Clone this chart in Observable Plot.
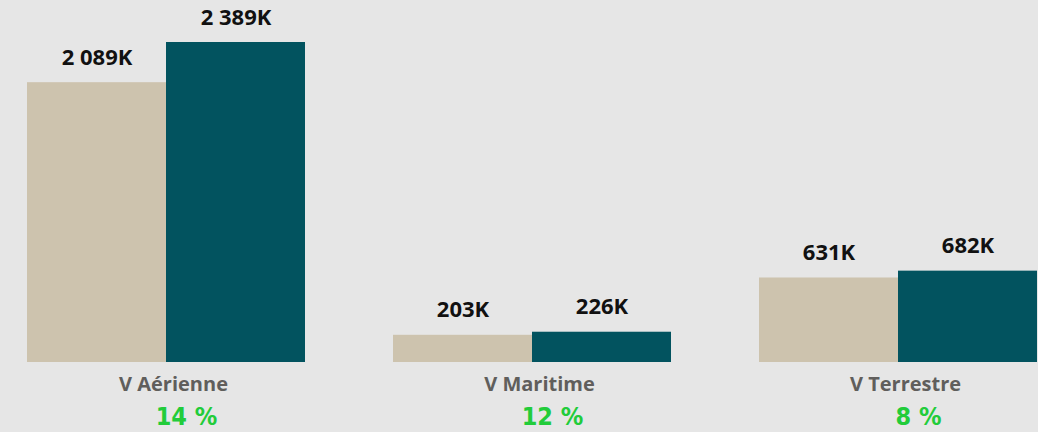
<!DOCTYPE html>
<html>
<head>
<meta charset="utf-8">
<script src="https://cdn.jsdelivr.net/npm/d3@7"></script>
<script src="https://cdn.jsdelivr.net/npm/@observablehq/plot@0.6"></script>
<style>
  html, body { margin: 0; padding: 0; background: #e6e6e6; }
  #chart svg { display: block; }
</style>
</head>
<body>
<div id="chart"></div>
<script>
// ---- data ----
const categories = ["V Aérienne", "V Maritime", "V Terrestre"];
const seriesNames = ["Précédent", "Actuel"];
const previousK = [2089, 203, 631];
const currentK = [2389, 226, 682];
const growthPct = [14, 12, 8];
const seriesColors = ["#cdc3ae", "#02535f"];

// ---- build table ----
const rows = [];
categories.forEach((c, i) => {
  rows.push({cat: c, series: seriesNames[0], value: previousK[i]});
  rows.push({cat: c, series: seriesNames[1], value: currentK[i]});
});
const groups = categories.map((c, i) => ({cat: c, pct: growthPct[i]}));

const locale = d3.formatLocale({decimal: ",", thousands: " ", grouping: [3], currency: ["", " €"]});
const fmt = locale.format(",d");

const chart = Plot.plot({
  width: 1038,
  height: 432,
  marginLeft: 26,
  marginRight: 1,
  marginTop: 42,
  marginBottom: 70,
  style: {background: "#e6e6e6", overflow: "visible"},
  fx: {domain: categories, paddingInner: 0.2415, paddingOuter: 0, axis: null},
  x: {domain: seriesNames, padding: 0, axis: null},
  y: {domain: [0, d3.max(rows, d => d.value)], axis: null},
  color: {domain: seriesNames, range: seriesColors},
  marks: [
    Plot.barY(rows, {fx: "cat", x: "series", y: "value", fill: "series", insetLeft: 0, insetRight: 0}),
    Plot.text(rows, {
      fx: "cat", x: "series", y: "value", text: d => fmt(d.value) + "K",
      dy: -25, fontSize: 22, fontWeight: 700, fill: "#111",
      fontFamily: "'Open Sans', sans-serif"
    }),
    Plot.text(groups, {
      fx: "cat", y: () => 0, text: "cat", dy: 22, dx: 7,
      fontSize: 20, fontWeight: 700, fill: "#605e5c",
      fontFamily: "'Open Sans', sans-serif"
    }),
    Plot.text(groups, {
      fx: "cat", y: () => 0, text: d => d.pct + " %", dy: 54, dx: 20,
      fontSize: 25, fontWeight: 700, fill: "#22cc3a",
      fontFamily: "'DejaVu Sans Condensed', 'DejaVu Sans', sans-serif",
      fontStretch: "condensed"
    })
  ]
});
document.getElementById("chart").appendChild(chart);
</script>
</body>
</html>
